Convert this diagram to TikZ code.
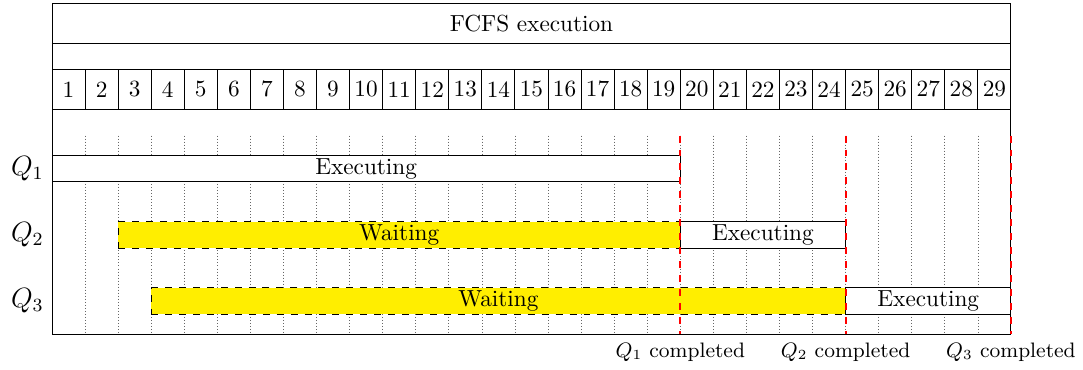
\documentclass[tikz,border=0pt]{standalone}
\usepackage{amsmath}
\definecolor{waityellow}{RGB}{255,238,0}

\begin{document}
\begin{tikzpicture}[x=0.5cm,y=1cm,
    cell/.style={draw, minimum width=0.5cm, minimum height=0.6cm, inner sep=0pt},
    exec/.style={draw, fill=white, minimum height=0.4cm, inner sep=0pt},
    wait/.style={draw, dashed, fill=waityellow, minimum height=0.4cm, inner sep=0pt},
    qlabel/.style={anchor=east, font=\large},
    done/.style={font=\small}]
  \useasboundingbox (-1.572,-0.53) rectangle (31.18,5.05);
  % frame and header rows
  \draw (0,0) rectangle (29,5);
  \draw (0,4.4) -- (29,4.4);
  \node (title) at (14.5,4.7) {FCFS execution};
  \foreach \i in {1,...,29}
    \node[cell] (c\i) at (\i-0.5,3.7) {\i};
  % time grid
  \foreach \i in {1,...,28}
    \draw[densely dotted, gray!80!black, line width=0.3pt] (\i,3) -- (\i,0);
  % bars
  \node[exec, minimum width=9.5cm] (q1exec) at (9.5,2.5) {Executing};
  \node[wait, minimum width=8.5cm] (q2wait) at (10.5,1.5) {Waiting};
  \node[exec, minimum width=2.5cm] (q2exec) at (21.5,1.5) {Executing};
  \node[wait, minimum width=10.5cm] (q3wait) at (13.5,0.5) {Waiting};
  \node[exec, minimum width=2.5cm] (q3exec) at (26.5,0.5) {Executing};
  \node[qlabel] (q1) at (0,2.5) {$Q_1$};
  \node[qlabel] (q2) at (0,1.5) {$Q_2$};
  \node[qlabel] (q3) at (0,0.5) {$Q_3$};
  % completion marks
  \foreach \t/\q in {19/1,24/2,29/3} {
    \coordinate (m\q) at (\t,3);
    \node[done] (d\q) at (\t,-0.27) {$Q_\q$ completed};
    \draw[red, thick, dashed] (m\q) -- (\t,0);
  }
\end{tikzpicture}
\end{document}
